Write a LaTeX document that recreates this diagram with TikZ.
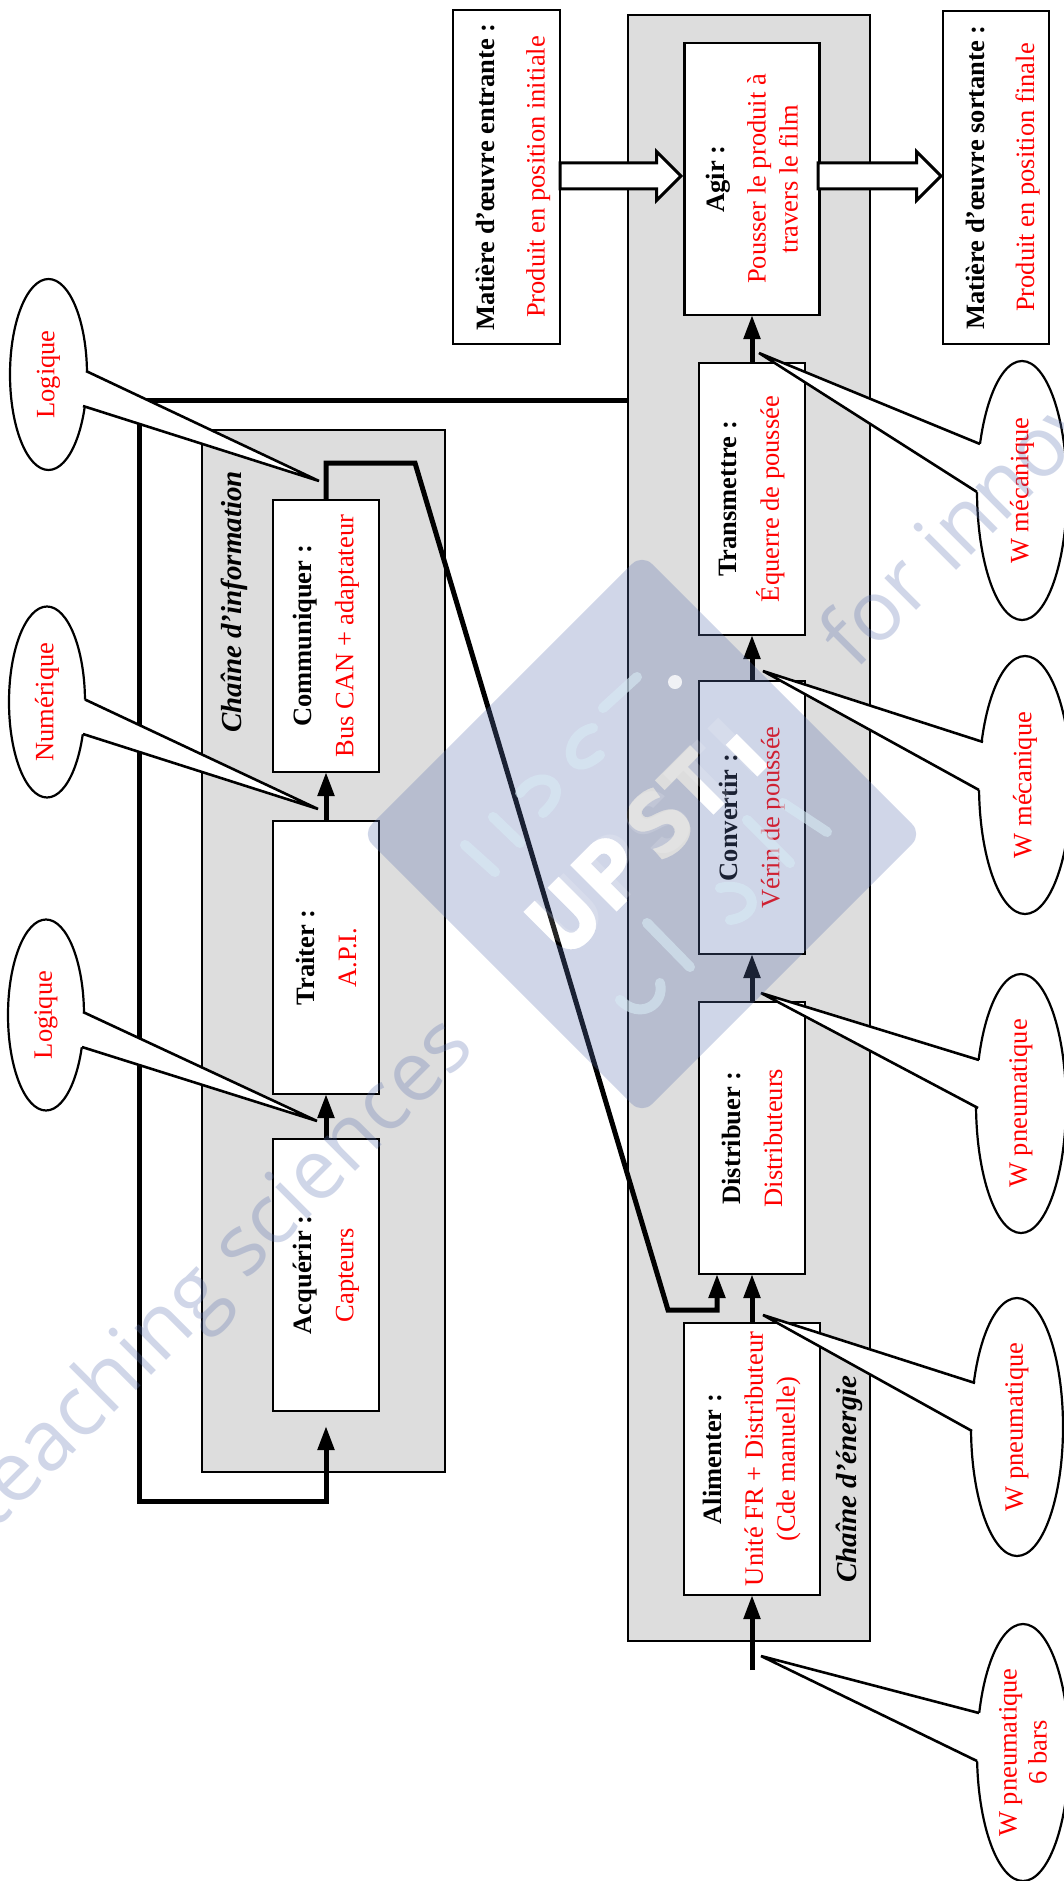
\documentclass[tikz,border=0pt]{standalone}
\usepackage{fontspec}
\setmainfont{Liberation Serif}
\setsansfont{Open Sans}
\newfontfamily\siglefont[LetterSpace=8]{Poppins}
\usepackage{tikz}
\usetikzlibrary{arrows.meta, shapes.geometric, shapes.arrows}

\definecolor{fondgris}{RGB}{221,221,221}
\definecolor{filigrane}{RGB}{93,114,176}
\definecolor{trace}{RGB}{215,235,245}

\tikzset{
	chaine/.style={draw, fill=fondgris, line width=2.2pt, inner sep=0pt, outer sep=0pt},
	boite/.style={draw, fill=white, line width=2.6pt, inner sep=0pt, outer sep=0pt, rotate=90, align=center, font=\fontsize{26.5}{32}\selectfont},
	titre/.style={rotate=90, font=\fontsize{29}{34}\selectfont\bfseries\itshape},
	flux/.style={line width=5pt, -{Triangle[length=24pt,width=16pt]}},
	creux/.style={single arrow, draw, fill=white, line width=3pt, inner xsep=0pt, inner ysep=11.5pt, outer sep=0pt, minimum width=46pt, single arrow head extend=11.5pt, single arrow head indent=0pt, anchor=tail},
	bulle/.style={ellipse, draw, fill=white, line width=2.2pt, inner sep=0pt, rotate=90, align=center, text=red, font=\fontsize{26.5}{30}\selectfont},
	mot/.style={rotate=45, opacity=0.29, text=filigrane, font=\fontsize{84}{84}\selectfont\sffamily},
	marque/.style={trace, opacity=0.6, line width=10pt, line cap=round},
}

% bulle et sa pointe : nom, pointe, base 1, base 2, decalage vers l'ellipse
\newcommand{\pointe}[5]{
	\coordinate (#1p) at (#2);
	\coordinate (#1a) at (#3);
	\coordinate (#1b) at (#4);
	\fill[white] ([xshift=#5]#1a) -- (#1a) -- (#1p) -- (#1b) -- ([xshift=#5]#1b) -- cycle;
	\draw[line width=2.6pt, line join=miter] (#1a) -- (#1p) -- (#1b);
}

\begin{document}
\begin{tikzpicture}[x=1pt, y=-1pt]
	\useasboundingbox (0,0) rectangle (1064,1881);

	% chaines
	\node[chaine, minimum width=243pt, minimum height=1042pt] (info) at (323.5,951) {};
	\node[chaine, minimum width=242pt, minimum height=1626pt] (energie) at (749,828) {};
	\node[titre] (tinfo) at (234,602) {Chaîne d’information};
	\node[titre] (tenergie) at (849,1479) {Chaîne d’énergie};

	% chaine d'information
	\node[boite, minimum width=272pt, minimum height=106pt] (acq) at (326,1275) {\textbf{Acquérir :}\\[10pt]\textcolor{red}{Capteurs}};
	\node[boite, minimum width=273pt, minimum height=106pt] (tra) at (326,957.5) {\textbf{Traiter :}\\[10pt]\textcolor{red}{A.P.I.}};
	\node[boite, minimum width=272pt, minimum height=106pt] (com) at (326,636) {\textbf{Communiquer :}\\[10pt]\textcolor{red}{Bus CAN + adaptateur}};

	% chaine d'energie
	\node[boite, minimum width=272pt, minimum height=136pt] (ali) at (752,1459) {\textbf{Alimenter :}\\[9pt]\textcolor{red}{Unité FR + Distributeur}\\\textcolor{red}{(Cde manuelle)}};
	\node[boite, minimum width=272pt, minimum height=106pt] (dis) at (752,1138) {\textbf{Distribuer :}\\[10pt]\textcolor{red}{Distributeurs}};
	\node[boite, minimum width=273pt, minimum height=106pt] (cvt) at (752,817.5) {\textbf{Convertir :}\\[10pt]\textcolor{red}{Vérin de poussée}};
	\node[boite, minimum width=272pt, minimum height=106pt] (tsm) at (752,499) {\textbf{Transmettre :}\\[10pt]\textcolor{red}{Équerre de poussée}};
	\node[boite, minimum width=272pt, minimum height=135pt] (agi) at (752,179) {\textbf{Agir :}\\[9pt]\textcolor{red}{Pousser le produit à}\\\textcolor{red}{travers le film}};

	% matiere d'oeuvre
	\node[boite, minimum width=334pt, minimum height=107pt] (ment) at (506.5,177) {\rule{0pt}{32pt}\textbf{Matière d’œuvre entrante :}\\[18pt]\textcolor{red}{Produit en position initiale}};
	\node[boite, minimum width=333pt, minimum height=106pt] (msor) at (996,177.5) {\rule{0pt}{32pt}\textbf{Matière d’œuvre sortante :}\\[18pt]\textcolor{red}{Produit en position finale}};
	\node[creux, minimum height=121pt] (fent) at (560,176) {};
	\node[creux, minimum height=123pt] (fsor) at (818,176) {};

	% fleches
	\draw[flux] (acq.east) -- (tra.west);
	\draw[flux] (tra.east) -- (com.west);
	\draw[flux] (ali.east) -- (dis.west);
	\draw[flux] (dis.east) -- (cvt.west);
	\draw[flux] (cvt.east) -- (tsm.west);
	\draw[flux] (tsm.east) -- (agi.west);
	\coordinate (entree) at (752,1670);
	\draw[flux] (entree) -- (ali.west);

	% retour et commande
	\coordinate (retour) at (energie.west |- 0,400);
	\coordinate (capteur) at (326,1426);
	\draw[flux] (retour) -| (139,1501) -| (capteur);
	\coordinate (ordre) at (717,1274);
	\draw[flux] (com.east) |- (415,463) -- (668,1310) -| (ordre);

	% bulles
	\node[bulle, minimum width=191pt, minimum height=77pt] (blog) at (48.5,374.5) {Logique};
	\pointe{blog}{319,481}{86,371}{83,406}{-6pt}
	\node[bulle, minimum width=191pt, minimum height=76pt] (bnum) at (47,702) {Numérique};
	\pointe{bnum}{318,809}{85,699.5}{83,734}{-6pt}
	\node[bulle, minimum width=191pt, minimum height=76pt] (bacq) at (46,1015) {Logique};
	\pointe{bacq}{317,1121}{83,1012}{82,1047}{-6pt}
	\node[bulle, minimum width=259pt, minimum height=90pt] (bagi) at (1022,490.5) {W mécanique};
	\pointe{bagi}{759,353}{980,444}{977,492}{6pt}
	\node[bulle, minimum width=258pt, minimum height=92pt] (btsm) at (1025,785) {W mécanique};
	\pointe{btsm}{763,671}{983,742}{979,790}{6pt}
	\node[bulle, minimum width=259pt, minimum height=90pt] (bcvt) at (1021,1103.5) {W pneumatique};
	\pointe{bcvt}{761,993}{979,1060}{978,1108}{6pt}
	\node[bulle, minimum width=258pt, minimum height=92pt] (bdis) at (1017,1427) {W pneumatique};
	\pointe{bdis}{763,1315}{975,1383}{972,1431}{6pt}
	\node[bulle, minimum width=257pt, minimum height=92pt] (bali) at (1023,1752.5) {W pneumatique\\6 bars};
	\pointe{bali}{761,1656}{979,1713}{977,1761}{6pt}

	% filigrane : losange evide du sigle
	\begin{scope}[shift={(642,834)}, rotate=45]
		\fill[filigrane, opacity=0.29, even odd rule]
			[rounded corners=14pt] (-198,-198) -- (198,-198) -- (198,198) -- (-198,198) -- cycle [sharp corners]
			{[shift={(-139,4)}] (0,-33) -- (0,5) .. controls (0,25) and (10,34) .. (25,34) .. controls (40,34) and (50,25) .. (50,5) -- (50,-33) -- (34,-33) -- (34,5) .. controls (34,14) and (31,18) .. (25,18) .. controls (19,18) and (16,14) .. (16,5) -- (16,-33) -- cycle}
			{[shift={(-73,4)}] (0,-33) -- (28,-33) .. controls (42,-33) and (50,-24) .. (50,-12) .. controls (50,0) and (42,9) .. (28,9) -- (16,9) -- (16,33) -- (0,33) -- cycle
				(16,-19) -- (27,-19) .. controls (32,-19) and (34,-16) .. (34,-12) .. controls (34,-8) and (32,-5) .. (27,-5) -- (16,-5) -- cycle}
			{[shift={(-4,4)}] (45,-29) .. controls (38,-33) and (32,-34) .. (24,-34) .. controls (10,-34) and (2,-27) .. (2,-16) .. controls (2,-5) and (10,-1) .. (22,3) .. controls (29,5) and (31,8) .. (31,12) .. controls (31,17) and (27,20) .. (21,20) .. controls (14,20) and (7,18) .. (1,14) -- (0,28) .. controls (7,32) and (14,34) .. (22,34) .. controls (36,34) and (47,27) .. (47,12) .. controls (47,1) and (40,-5) .. (27,-9) .. controls (20,-11) and (18,-13) .. (18,-16) .. controls (18,-20) and (21,-21) .. (26,-21) .. controls (31,-21) and (37,-20) .. (43,-17) -- cycle}
			{[shift={(47,4)}] (0,-33) -- (50,-33) -- (50,-19) -- (33,-19) -- (33,33) -- (17,33) -- (17,-19) -- (0,-19) -- cycle}
			(122,-4) -- (138,-4) -- (138,41) -- (122,41) -- cycle;
		\node[rotate=45, text=white, opacity=0.15, font=\fontsize{90}{90}\selectfont\siglefont\bfseries] (sigle) at (0,4) {UPSTI};
	\end{scope}
	\draw[marque] (465,845) -- (495,872);
	\draw[marque] (493,817) -- (520,843);
	\draw[marque] (520,793) .. controls (540,765) and (575,785) .. (543,813);
	\draw[marque] (593,728) .. controls (560,735) and (565,785) .. (600,755);
	\draw[marque] (603,708) -- (637,677);
	\fill[white, opacity=0.8] (675,682) circle (7);
	\draw[marque] (647,923) -- (690,967);
	\draw[marque] (620,1000) .. controls (640,1020) and (665,1005) .. (660,983);
	\draw[marque] (720,888) .. controls (755,880) and (765,915) .. (730,920);
	\draw[marque] (747,820) -- (790,863);
	\draw[marque] (783,803) -- (827,832);
	\node[mot] (wgauche) at (220,1276) {teaching sciences};
	\node[mot] (wdroite) at (1028,454) {for innovation};
\end{tikzpicture}
\end{document}
